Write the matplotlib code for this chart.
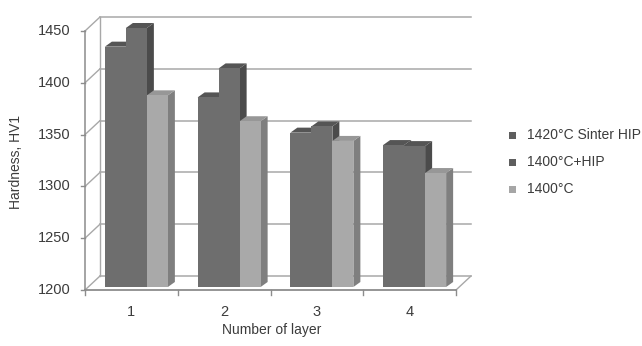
import matplotlib.pyplot as plt
from matplotlib.patches import Polygon, Rectangle
import numpy as np

plt.rcParams['font.family'] = ['Liberation Sans', 'DejaVu Sans']

layers = ['1', '2', '3', '4']
series_names = ['1420°C Sinter HIP', '1400°C+HIP', '1400°C']
sinter_hip_1420 = [1432, 1383, 1349, 1337]
hip_1400 = [1450, 1411, 1355, 1336]
plain_1400 = [1385, 1360, 1341, 1310]
yticks = [1200, 1250, 1300, 1350, 1400, 1450]

series_values = [sinter_hip_1420, hip_1400, plain_1400]
front_colors = ['#6e6e6e', '#6e6e6e', '#a9a9a9']
top_colors = ['#555555', '#555555', '#979797']
side_colors = ['#4b4b4b', '#4b4b4b', '#7f7f7f']
legend_colors = ['#5e5e5e', '#5e5e5e', '#a6a6a6']

W, H = 642, 346
fig = plt.figure(figsize=(W / 100, H / 100), dpi=100)
x0, x1, ytop, ybot = 85, 456, 31, 290
ax = fig.add_axes([x0 / W, 1 - ybot / H, (x1 - x0) / W, (ybot - ytop) / H])
ax.set_xlim(0, len(layers))
ax.set_ylim(yticks[0], yticks[-1])
ax.axis('off')

# pixel -> data conversion
px_x = len(layers) / (x1 - x0)
px_y = (yticks[-1] - yticks[0]) / (ybot - ytop)

# wall depth offset
wdx, wdy = 15 * px_x, 14 * px_y
grid_c = '#a8a8a8'
axis_c = '#8c8c8c'

# back wall grid + left wall diagonals
for t in yticks:
    ax.plot([wdx, len(layers) + wdx], [t + wdy, t + wdy], color=grid_c, lw=1.1, clip_on=False, zorder=1)
    ax.plot([0, wdx], [t, t + wdy], color=grid_c, lw=1.0, clip_on=False, zorder=1)
    ax.plot([-4 * px_x, 0], [t, t], color=axis_c, lw=1.0, clip_on=False, zorder=1)
ax.plot([wdx, wdx], [yticks[0] + wdy, yticks[-1] + wdy], color=grid_c, lw=1.0, clip_on=False, zorder=1)
# floor right edge
ax.plot([len(layers), len(layers) + wdx], [yticks[0], yticks[0] + wdy], color=grid_c, lw=1.0, clip_on=False, zorder=1)

# front axes
ax.plot([0, 0], [yticks[0], yticks[-1]], color=axis_c, lw=1.1, clip_on=False, zorder=2)
ax.plot([0, len(layers)], [yticks[0], yticks[0]], color=axis_c, lw=1.3, clip_on=False, zorder=2)
for i in range(len(layers) + 1):
    ax.plot([i, i], [yticks[0], yticks[0] - 5 * px_y], color=axis_c, lw=1.0, clip_on=False, zorder=2)

# bars with fake 3D faces
bw = 21 * px_x
sx, sy = 5 * px_x, 3 * px_y
bdx, bdy = 7 * px_x, 5 * px_y
z = 3
for g in range(len(layers)):
    left0 = g + 0.5 - 1.5 * bw + sx
    for s, vals in enumerate(series_values):
        l = left0 + s * bw
        v = vals[g]
        base = yticks[0] + sy
        top = v + sy
        side = Polygon([[l + bw, base], [l + bw + bdx, base + bdy], [l + bw + bdx, top + bdy], [l + bw, top]],
                       closed=True, facecolor=side_colors[s], edgecolor='none', zorder=z, clip_on=False)
        topf = Polygon([[l, top], [l + bdx, top + bdy], [l + bw + bdx, top + bdy], [l + bw, top]],
                       closed=True, facecolor=top_colors[s], edgecolor='none', zorder=z, clip_on=False)
        ax.add_patch(side)
        ax.add_patch(topf)
        ax.bar(l, v - yticks[0], bottom=base, width=bw, align='edge', color=front_colors[s],
               edgecolor='none', zorder=z + 0.5, clip_on=False)
        z += 1

# tick labels
tc = '#3c3c3c'
for t in yticks:
    ax.text(-14 * px_x, t, str(t), ha='right', va='center', fontsize=10.5, color=tc, clip_on=False)
for i, lab in enumerate(layers):
    ax.text(i + 0.5, yticks[0] - 22 * px_y, lab, ha='center', va='center', fontsize=10.5, color=tc, clip_on=False)

fig.text(16 / W, 1 - 162 / H, 'Hardness, HV1', rotation=90, ha='center', va='center', fontsize=10, color=tc)
fig.text(272 / W, 1 - 330 / H, 'Number of layer', ha='center', va='center', fontsize=10, color=tc)

# legend
leg_y = [135, 162, 189]
for name, c, yy in zip(series_names, legend_colors, leg_y):
    fig.patches.append(Rectangle(((509) / W, 1 - (yy + 3.5) / H), 7 / W, 7 / H,
                                 transform=fig.transFigure, facecolor=c, edgecolor='none'))
    fig.text(527 / W, 1 - yy / H, name, ha='left', va='center', fontsize=10, color=tc)

fig.savefig('out.png', dpi=100, facecolor='white')
